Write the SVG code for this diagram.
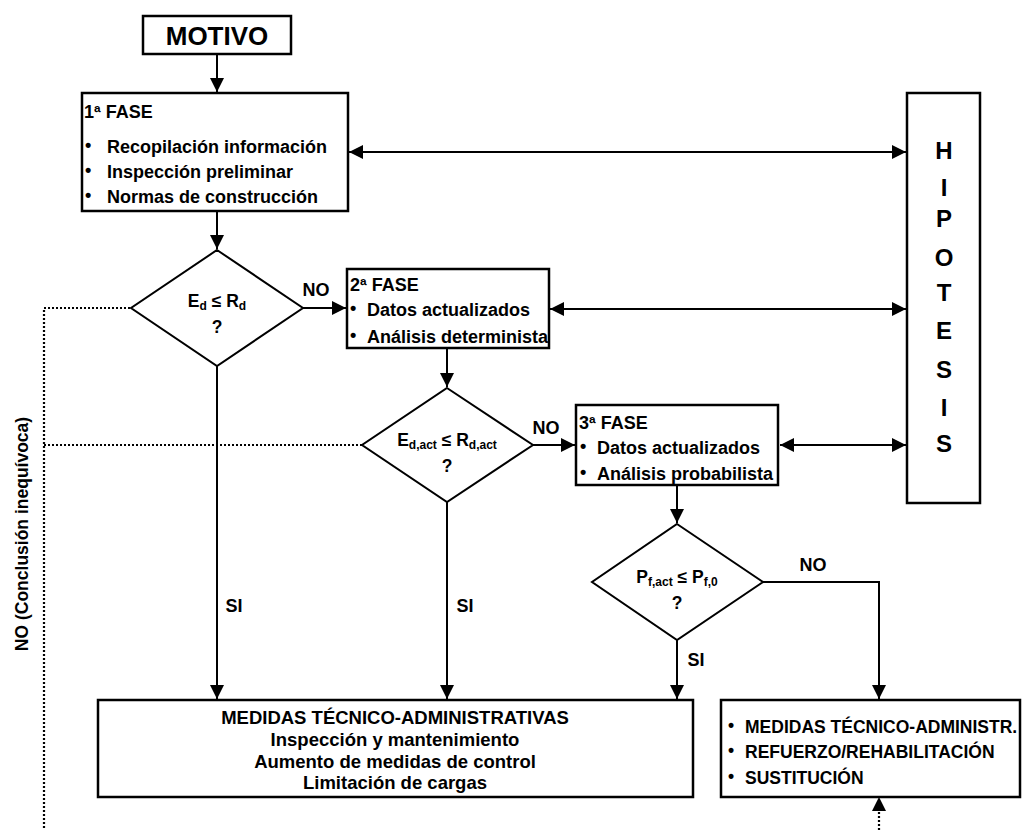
<svg xmlns="http://www.w3.org/2000/svg" width="1022" height="830" viewBox="0 0 1022 830">
<defs>
<marker id="ah" markerUnits="userSpaceOnUse" markerWidth="15" markerHeight="14" refX="14" refY="7" orient="auto-start-reverse">
<path d="M0,0 L14,7 L0,14 Z" fill="#000"/>
</marker>
</defs>
<style>
text{font-family:"Liberation Sans",Arial,sans-serif;font-weight:bold;fill:#000}
.box{fill:#fff;stroke:#000;stroke-width:2.5}
.ln{fill:none;stroke:#000;stroke-width:2}
.dot{fill:none;stroke:#000;stroke-width:2.2;stroke-dasharray:2 2}
.t{font-size:18px}
.b{font-size:18.5px}
.r{font-size:17.5px}
.c{text-anchor:middle}
.sub{font-size:12px}
</style>
<rect width="1022" height="830" fill="#fff"/>
<g id="connectors">
<path class="ln" d="M217,54 V92" marker-end="url(#ah)"/>
<path class="ln" d="M217,211 V249" marker-end="url(#ah)"/>
<path class="ln" d="M349,152 H906" marker-start="url(#ah)" marker-end="url(#ah)"/>
<path class="ln" d="M303,308 H346" marker-end="url(#ah)"/>
<path class="ln" d="M550,309 H906" marker-start="url(#ah)" marker-end="url(#ah)"/>
<path class="ln" d="M447,348 V387" marker-end="url(#ah)"/>
<path class="ln" d="M533,445 H575" marker-end="url(#ah)"/>
<path class="ln" d="M780,445 H906" marker-start="url(#ah)" marker-end="url(#ah)"/>
<path class="ln" d="M677,485 V523" marker-end="url(#ah)"/>
<path class="ln" d="M217,366 V699" marker-end="url(#ah)"/>
<path class="ln" d="M447,502 V699" marker-end="url(#ah)"/>
<path class="ln" d="M677,640 V699" marker-end="url(#ah)"/>
<path class="ln" d="M763,582 H879 V699" marker-end="url(#ah)"/>
<path class="dot" d="M879,830 V811"/>
<path d="M872,811 L879,797 L886,811 Z" fill="#000"/>
<path class="dot" d="M130,308 H44 V830"/>
<path class="dot" d="M362,445 H44"/>
<text class="t" x="316" y="296" text-anchor="middle">NO</text>
<text class="t" x="546" y="434" text-anchor="middle">NO</text>
<text class="t" x="813" y="571" text-anchor="middle">NO</text>
<text class="t" x="234" y="612" text-anchor="middle">SI</text>
<text class="t" x="465" y="612" text-anchor="middle">SI</text>
<text class="t" x="696" y="666" text-anchor="middle">SI</text>
<text class="r" transform="translate(28,534) rotate(-90)" text-anchor="middle">NO (Conclusión inequívoca)</text>
</g>
<g id="motivo">
<rect class="box" x="143" y="16" width="148" height="38"/>
<text x="217" y="45" font-size="26" text-anchor="middle">MOTIVO</text>
</g>
<g id="fase1">
<rect class="box" x="82" y="93" width="266" height="118"/>
<text class="t" x="84" y="118">1ª FASE</text>
<text class="t" x="85" y="151">•</text><text class="t" x="107" y="153">Recopilación información</text>
<text class="t" x="85" y="176">•</text><text class="t" x="107" y="178">Inspección preliminar</text>
<text class="t" x="85" y="201">•</text><text class="t" x="107" y="203">Normas de construcción</text>
</g>
<g id="hipotesis">
<rect class="box" x="907" y="93" width="73" height="410"/>
<g font-size="24" text-anchor="middle">
<text x="944" y="159">H</text>
<text x="944" y="196">I</text>
<text x="944" y="227">P</text>
<text x="944" y="266">O</text>
<text x="944" y="301">T</text>
<text x="944" y="339">E</text>
<text x="944" y="378">S</text>
<text x="944" y="416">I</text>
<text x="944" y="452">S</text>
</g>
</g>
<g id="dec1">
<path class="ln" d="M217,250 L303,308 L217,366 L131,308 Z" style="fill:#fff"/>
<text x="217" y="307" font-size="17.5" text-anchor="middle">E<tspan class="sub" dy="3">d</tspan><tspan dy="-3"> ≤ R</tspan><tspan class="sub" dy="3">d</tspan></text>
<text x="217" y="333" font-size="17.5" text-anchor="middle">?</text>
</g>
<g id="fase2">
<rect class="box" x="347" y="269" width="202" height="79"/>
<text class="t" x="350" y="291">2ª FASE</text>
<text class="t" x="350" y="314">•</text><text class="t" x="367" y="316">Datos actualizados</text>
<text class="t" x="350" y="341">•</text><text class="t" x="367" y="343">Análisis determinista</text>
</g>
<g id="dec2">
<path class="ln" d="M447,388 L533,445 L447,502 L362,445 Z" style="fill:#fff"/>
<text x="447" y="446" font-size="17.5" text-anchor="middle">E<tspan class="sub" dy="3">d,act</tspan><tspan dy="-3"> ≤ R</tspan><tspan class="sub" dy="3">d,act</tspan></text>
<text x="447" y="472" font-size="17.5" text-anchor="middle">?</text>
</g>
<g id="fase3">
<rect class="box" x="576" y="405" width="202" height="80"/>
<text class="t" x="579" y="429">3ª FASE</text>
<text class="t" x="580" y="452">•</text><text class="t" x="597" y="454">Datos actualizados</text>
<text class="t" x="580" y="478">•</text><text class="t" x="597" y="480">Análisis probabilista</text>
</g>
<g id="dec3">
<path class="ln" d="M677,524 L763,582 L677,640 L592,582 Z" style="fill:#fff"/>
<text x="677" y="583" font-size="17.5" text-anchor="middle">P<tspan class="sub" dy="3">f,act</tspan><tspan dy="-3"> ≤ P</tspan><tspan class="sub" dy="3">f,0</tspan></text>
<text x="677" y="609" font-size="17.5" text-anchor="middle">?</text>
</g>
<g id="medidas">
<rect class="box" x="98" y="700" width="595" height="97"/>
<text class="b c" x="395" y="724">MEDIDAS TÉCNICO-ADMINISTRATIVAS</text>
<text class="b c" x="395" y="746">Inspección y mantenimiento</text>
<text class="b c" x="395" y="768">Aumento de medidas de control</text>
<text class="b c" x="395" y="789">Limitación de cargas</text>
</g>
<g id="refuerzo">
<rect class="box" x="721" y="700" width="299" height="97"/>
<text class="r" x="728" y="731">•</text><text class="r" x="745" y="733">MEDIDAS TÉCNICO-ADMINISTR.</text>
<text class="r" x="728" y="756">•</text><text class="r" x="745" y="758">REFUERZO/REHABILITACIÓN</text>
<text class="r" x="728" y="782">•</text><text class="r" x="745" y="784">SUSTITUCIÓN</text>
</g>
</svg>
